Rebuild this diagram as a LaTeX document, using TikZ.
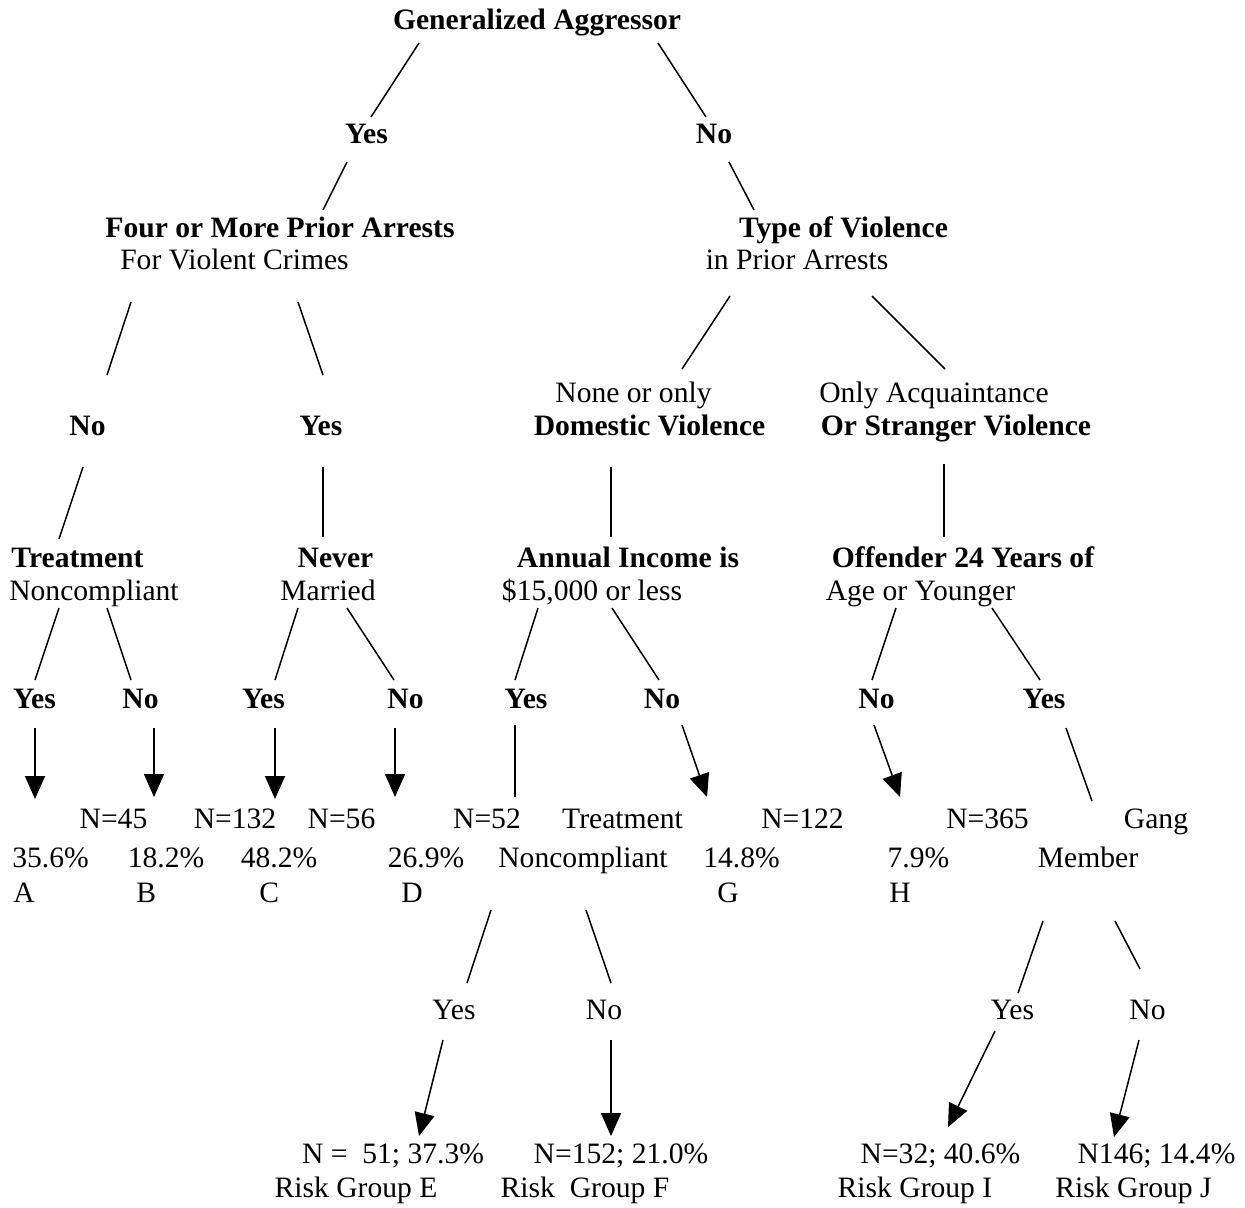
\documentclass[tikz,border=0pt]{standalone}
\usepackage{fontspec}
\setmainfont{Liberation Serif}
\usetikzlibrary{arrows.meta}
\begin{document}
\begin{tikzpicture}[x=0.5pt,y=-0.5pt,
  txt/.style={anchor=base,inner sep=0pt,font=\fontsize{14.8}{16}\selectfont},
  bld/.style={txt,font=\fontsize{14.8}{16}\selectfont\bfseries},
  ltr/.style={txt,anchor=base west},
  edge/.style={line width=0.75pt},
  arr/.style={line width=0.75pt,-{Triangle[width=10pt,length=11.5pt]}}]
\useasboundingbox (0,0) rectangle (1245,1207);
% ---- text nodes ----
\node[bld] (ga) at (537,29) {Generalized Aggressor};
\node[bld] (y1) at (366.5,143) {Yes};
\node[bld] (n1) at (714,143) {No};
\node[bld] (four) at (280,237) {Four or More Prior Arrests};
\node[txt] (fourb) at (234.5,269) {For Violent Crimes};
\node[bld] (type) at (843.5,237) {Type of Violence};
\node[txt] (typeb) at (797,269) {in Prior Arrests};
\node[bld] (n2) at (87.5,435) {No};
\node[bld] (y2) at (321,435) {Yes};
\node[txt] (none) at (633.5,402) {None or only};
\node[bld] (dom) at (649.5,435) {Domestic Violence};
\node[txt] (only) at (934,402) {Only Acquaintance};
\node[bld] (stranger) at (956,435) {Or Stranger Violence};
\node[bld] (treat) at (77.5,567) {Treatment};
\node[txt] (treatb) at (94,600) {Noncompliant};
\node[bld] (never) at (335.5,567) {Never};
\node[txt] (married) at (328,600) {Married};
\node[bld] (annual) at (628,567) {Annual Income is};
\node[txt] (income) at (592,600) {\$15,000 or less};
\node[bld] (offender) at (963,567) {Offender 24 Years of};
\node[txt] (age) at (920.5,600) {Age or Younger};
% yes/no row
\node[bld] (ya) at (34.5,708) {Yes};
\node[bld] (nb) at (140.5,708) {No};
\node[bld] (yc) at (263.5,708) {Yes};
\node[bld] (nd) at (405.5,708) {No};
\node[bld] (ye) at (526,708) {Yes};
\node[bld] (ng) at (662,708) {No};
\node[bld] (nh) at (876.5,708) {No};
\node[bld] (yg) at (1044,708) {Yes};
% N row
\node[txt] (nB) at (113.5,828) {N=45};
\node[txt] (nC) at (235,828) {N=132};
\node[txt] (nD) at (341.5,828) {N=56};
\node[txt] (nE) at (487,828) {N=52};
\node[txt] (tr2) at (622.5,828) {Treatment};
\node[txt] (nG) at (802.5,828) {N=122};
\node[txt] (nH) at (987.5,828) {N=365};
\node[txt] (gang) at (1156,828) {Gang};
% percent row
\node[txt] (pA) at (50.5,867) {35.6\%};
\node[txt] (pB) at (166,867) {18.2\%};
\node[txt] (pC) at (279,867) {48.2\%};
\node[txt] (pD) at (426,867) {26.9\%};
\node[txt] (nc2) at (583,867) {Noncompliant};
\node[txt] (pG) at (741.5,867) {14.8\%};
\node[txt] (pH) at (918.5,867) {7.9\%};
\node[txt] (member) at (1088,867) {Member};
% letter row
\node[ltr] (lA) at (13,902) {A};
\node[ltr] (lB) at (136,902) {B};
\node[ltr] (lC) at (259,902) {C};
\node[ltr] (lD) at (401,902) {D};
\node[ltr] (lG) at (717,902) {G};
\node[ltr] (lH) at (889,902) {H};
% lower yes/no
\node[txt] (y3) at (454,1019) {Yes};
\node[txt] (n3) at (604,1019) {No};
\node[txt] (y4) at (1012.5,1019) {Yes};
\node[txt] (n4) at (1147.5,1019) {No};
% risk groups
\node[txt] (rE1) at (393,1163) {N =\ \ 51; 37.3\%};
\node[txt] (rF1) at (621,1163) {N=152; 21.0\%};
\node[txt] (rI1) at (940.5,1163) {N=32; 40.6\%};
\node[txt] (rJ1) at (1156.5,1163) {N146; 14.4\%};
\node[txt] (rE2) at (356,1197) {Risk Group E};
\node[txt] (rF2) at (585,1197) {Risk\ \ Group F};
\node[txt] (rI2) at (915,1197) {Risk Group I};
\node[txt] (rJ2) at (1133.5,1197) {Risk Group J};
% ---- connector end points ----
\foreach \n/\x/\y in {
  a1/419/43, a2/371/117, b1/347/162, b2/323/210,
  c1/658/43, c2/706/117, d1/729/162, d2/754/210,
  e1/131/302, e2/107/375, f1/298/302, f2/323/375,
  g1/730/296, g2/682/369, h1/872/296, h2/945/369,
  i1/83/467, i2/59/539, j1/323/467, j2/323/537,
  k1/611/467, k2/611/537, l1/944/464, l2/944/537,
  m1/59/608, m2/35/680, o1/107/608, o2/131/680,
  p1/298/608, p2/275/680, q1/347/608, q2/394/680,
  r1/538/608, r2/515/680, s1/612/608, s2/659/680,
  t1/896/608, t2/872/680, u1/992/608, u2/1040/680,
  vA1/35/728, vA2/35/799, vB1/154/728, vB2/154/797,
  vC1/275/728, vC2/275/799, vD1/395/728, vD2/395/797,
  w1/515/725, w2/515/797, vG1/682/725, vG2/707/797,
  vH1/874/725, vH2/900/797, x1/1066/728, x2/1092/801,
  y1a/491/910, y1b/467/983, y2a/586/910, y2b/611/983,
  z1a/1043/921, z1b/1018/993, z2a/1115/921, z2b/1140/969,
  vE1/443/1040, vE2/419/1136, vF1/611/1040, vF2/611/1136,
  vI1/995/1031, vI2/948/1127, vJ1/1139/1040, vJ2/1114/1137}
  {\coordinate (\n) at (\x,\y);}
% ---- plain connectors ----
\foreach \s/\t in {a1/a2,b1/b2,c1/c2,d1/d2,e1/e2,f1/f2,g1/g2,h1/h2,
  i1/i2,j1/j2,k1/k2,l1/l2,m1/m2,o1/o2,p1/p2,q1/q2,r1/r2,s1/s2,t1/t2,u1/u2,
  w1/w2,x1/x2,y1a/y1b,y2a/y2b,z1a/z1b,z2a/z2b}
  {\draw[edge] (\s) -- (\t);}
% ---- arrows ----
\foreach \s/\t in {vA1/vA2,vB1/vB2,vC1/vC2,vD1/vD2,vG1/vG2,vH1/vH2,
  vE1/vE2,vF1/vF2,vI1/vI2,vJ1/vJ2}
  {\draw[arr] (\s) -- (\t);}
\end{tikzpicture}
\end{document}
